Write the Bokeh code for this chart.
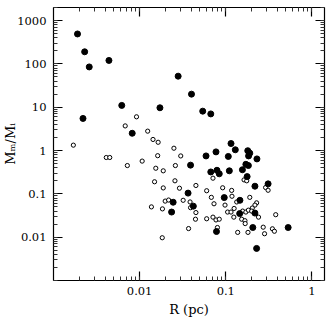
from bokeh.plotting import figure
from bokeh.models import LogAxis, FixedTicker, CustomJSTickFormatter, Range1d
from bokeh.embed import file_html
from bokeh.resources import INLINE

# filled symbols
filled_R = [0.0019, 0.0023, 0.0026, 0.0044, 0.0022, 0.0062, 0.0172, 0.028, 0.040, 0.0082,
            0.054, 0.067, 0.115, 0.129, 0.059, 0.077, 0.107, 0.180, 0.19, 0.184,
            0.23, 0.171, 0.183, 0.039, 0.067, 0.079, 0.084, 0.110, 0.156, 0.177,
            0.31, 0.218, 0.0365, 0.096, 0.146, 0.0245, 0.042, 0.0235, 0.145, 0.218,
            0.206, 0.53, 0.078, 0.228]
filled_M = [490, 190, 85, 120, 5.5, 11, 9.7, 52, 20, 2.5,
            8.1, 7.0, 1.45, 1.04, 0.75, 0.93, 0.73, 0.99, 0.87, 0.75,
            0.64, 0.48, 0.45, 0.46, 0.32, 0.35, 0.29, 0.34, 0.36, 0.25,
            0.17, 0.15, 0.104, 0.082, 0.071, 0.064, 0.052, 0.038, 0.035, 0.036,
            0.0167, 0.0167, 0.0135, 0.0055]

# open symbols
open_R = [0.0017, 0.0041, 0.0045, 0.0092, 0.0068, 0.0124, 0.0143, 0.0164, 0.025, 0.0162,
          0.030, 0.0072, 0.0107, 0.0154, 0.0188, 0.026, 0.071, 0.0149, 0.0257, 0.0188,
          0.029, 0.045, 0.060, 0.068, 0.0198, 0.0217, 0.032, 0.0385, 0.073, 0.0137,
          0.0184, 0.039, 0.092, 0.117, 0.163, 0.175, 0.29, 0.31, 0.118, 0.19,
          0.098, 0.134, 0.228, 0.218, 0.203, 0.125, 0.105, 0.115, 0.157, 0.171,
          0.183, 0.20, 0.24, 0.38, 0.045, 0.0445, 0.060, 0.071, 0.077, 0.084,
          0.124, 0.153, 0.167, 0.168, 0.080, 0.037, 0.1375, 0.181, 0.272, 0.282,
          0.348, 0.367, 0.0183]
open_M = [1.33, 0.69, 0.69, 6.0, 3.7, 2.8, 1.8, 1.55, 1.13, 0.76,
          0.75, 0.45, 0.57, 0.39, 0.34, 0.45, 0.23, 0.19, 0.20, 0.137,
          0.135, 0.156, 0.118, 0.083, 0.068, 0.072, 0.071, 0.065, 0.059, 0.050,
          0.045, 0.048, 0.138, 0.12, 0.21, 0.20, 0.14, 0.121, 0.088, 0.083,
          0.055, 0.065, 0.062, 0.055, 0.047, 0.046, 0.038, 0.038, 0.040, 0.038,
          0.042, 0.040, 0.029, 0.033, 0.037, 0.026, 0.0266, 0.029, 0.025, 0.026,
          0.029, 0.026, 0.024, 0.0206, 0.0167, 0.0158, 0.0129, 0.0129, 0.017, 0.012,
          0.0156, 0.0137, 0.0097]

x_major = [0.01, 0.1, 1]
y_major = [0.01, 0.1, 1, 10, 100, 1000]
x_lim = (0.001, 1.4)
y_lim = (0.001, 2000)

FONT = "DejaVu Serif"

p = figure(width=326, height=320, x_axis_type="log", y_axis_type="log",
           x_range=Range1d(*x_lim), y_range=Range1d(*y_lim),
           output_backend="svg", toolbar_location=None,
           min_border_left=51, min_border_right=2, min_border_top=7, min_border_bottom=40)
p.grid.visible = False
p.outline_line_color = None

x_minor = [m * 10.0 ** e for e in range(-3, 1) for m in range(1, 10)] + [1.0]
y_minor = [m * 10.0 ** e for e in range(-3, 4) for m in range(1, 10)]

lab = CustomJSTickFormatter(code="return String(Number(tick.toPrecision(3)));")
blank = CustomJSTickFormatter(code="return '';")


def style(ax, ticks, minor, labels):
    ax.ticker = FixedTicker(ticks=ticks, minor_ticks=minor)
    ax.formatter = lab if labels else blank
    ax.major_tick_in = 9
    ax.major_tick_out = 0
    ax.minor_tick_in = 4
    ax.minor_tick_out = 0
    ax.axis_line_color = "black"
    ax.axis_line_width = 1.2
    ax.major_tick_line_color = "black"
    ax.major_tick_line_width = 1.2
    ax.minor_tick_line_color = "#333333"
    ax.minor_tick_line_width = 1
    ax.major_label_text_font = FONT
    ax.major_label_text_font_size = "11.5px"
    ax.major_label_text_color = "black"
    ax.axis_label_text_font = FONT
    ax.axis_label_text_font_style = "normal"
    ax.axis_label_text_font_size = "13px"
    ax.axis_label_text_color = "black"
    if not labels:
        ax.major_label_standoff = 0


xa = p.xaxis[0]
ya = p.yaxis[0]
style(xa, x_major, x_minor, True)
style(ya, y_major, y_minor, True)
xa.axis_label = "R (pc)"
xa.major_label_standoff = 6
xa.axis_label_standoff = 4
ya.axis_label = "Mₘ/Mᵢ"
ya.major_label_standoff = 7
ya.axis_label_standoff = -4

top = LogAxis()
style(top, x_major, x_minor, False)
p.add_layout(top, "above")
right = LogAxis()
style(right, y_major, y_minor, False)
p.add_layout(right, "right")

p.scatter(open_R, open_M, size=4.2, marker="circle", fill_color="white",
          line_color="black", line_width=1)
p.scatter(filled_R, filled_M, size=6, marker="circle", fill_color="black",
          line_color="black")

open("out.html", "w").write(file_html(p, INLINE))
